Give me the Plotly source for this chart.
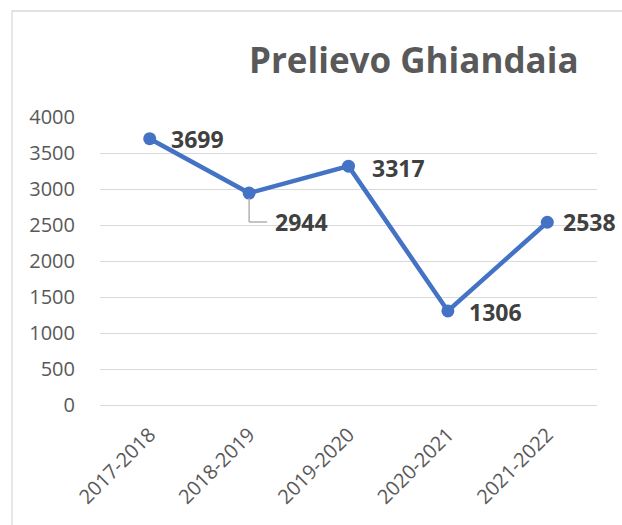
import plotly.graph_objects as go

categories = ["2017-2018", "2018-2019", "2019-2020", "2020-2021", "2021-2022"]
values = [3699, 2944, 3317, 1306, 2538]
y_ticks = [0, 500, 1000, 1500, 2000, 2500, 3000, 3500, 4000]
title_text = "Prelievo Ghiandaia"

W, H = 622, 525
L, R, T, B = 100, 25, 117, 120
pw, ph = W - L - R, H - T - B

LINE = "#4472C4"
TXT = "#595959"
LBL = "#404040"
FONT = "Open Sans"

fig = go.Figure()
fig.add_trace(go.Scatter(
    x=list(range(len(categories))), y=values, mode="lines+markers",
    line=dict(color=LINE, width=4.5),
    marker=dict(color=LINE, size=13),
    hoverinfo="skip", showlegend=False,
))

# data labels: (xshift px, yshift px)
offsets = [(19, 0), (24, -29), (21, -2), (19, -1), (14, 0)]
px_per_cat = pw / len(categories)
px_per_val = ph / 4000
for i, (v, (dx, dy)) in enumerate(zip(values, offsets)):
    fig.add_annotation(x=i, y=v, text=f"<b>{v}</b>", showarrow=False,
                       xanchor="left", yanchor="middle", xshift=dx, yshift=dy,
                       font=dict(family=FONT, size=23, color=LBL))

# leader line for label of second point
i = 1
v = values[i]
ybend = v + (-29) / px_per_val
fig.add_shape(type="line", xref="x", yref="y", x0=i, x1=i,
              y0=v - 5 / px_per_val, y1=ybend, line=dict(color="#A6A6A6", width=1.3))
fig.add_shape(type="line", xref="x", yref="y", x0=i, x1=i + 18 / px_per_cat,
              y0=ybend, y1=ybend, line=dict(color="#A6A6A6", width=1.3))

# outer chart border
fig.add_shape(type="rect", xref="paper", yref="paper",
              x0=(12 - L) / pw, x1=(W + 20 - L) / pw,
              y0=-(H + 20 - T - ph) / ph, y1=(ph + T - 11) / ph,
              line=dict(color="#D9D9D9", width=1.3), fillcolor="rgba(0,0,0,0)", layer="below")

fig.add_annotation(x=(581 - L) / pw, y=(ph + T - 59) / ph, xref="paper", yref="paper",
                   text=f"<b>{title_text}</b>", showarrow=False, xanchor="right", yanchor="middle",
                   font=dict(family=FONT, size=35, color=TXT))

fig.update_layout(
    width=W, height=H, margin=dict(l=L, r=R, t=T, b=B),
    paper_bgcolor="white", plot_bgcolor="white",
    xaxis=dict(tickmode="array", tickvals=list(range(len(categories))), ticktext=categories,
               range=[-0.5, len(categories) - 0.5], tickangle=-45,
               showgrid=False, zeroline=False, showline=False,
               ticks="outside", ticklen=9, tickcolor="rgba(0,0,0,0)",
               tickfont=dict(family=FONT, size=20, color=TXT)),
    yaxis=dict(range=[0, 4000], tickvals=y_ticks, showgrid=True, gridcolor="#D9D9D9",
               gridwidth=1.3, zeroline=True, zerolinecolor="#D9D9D9", zerolinewidth=1.3,
               showline=False, ticks="outside", ticklen=20, tickcolor="rgba(0,0,0,0)",
               tickfont=dict(family=FONT, size=20, color=TXT)),
)

fig.write_html("out.html", config={"displayModeBar": False},
               post_script="document.body.style.margin='0';")
